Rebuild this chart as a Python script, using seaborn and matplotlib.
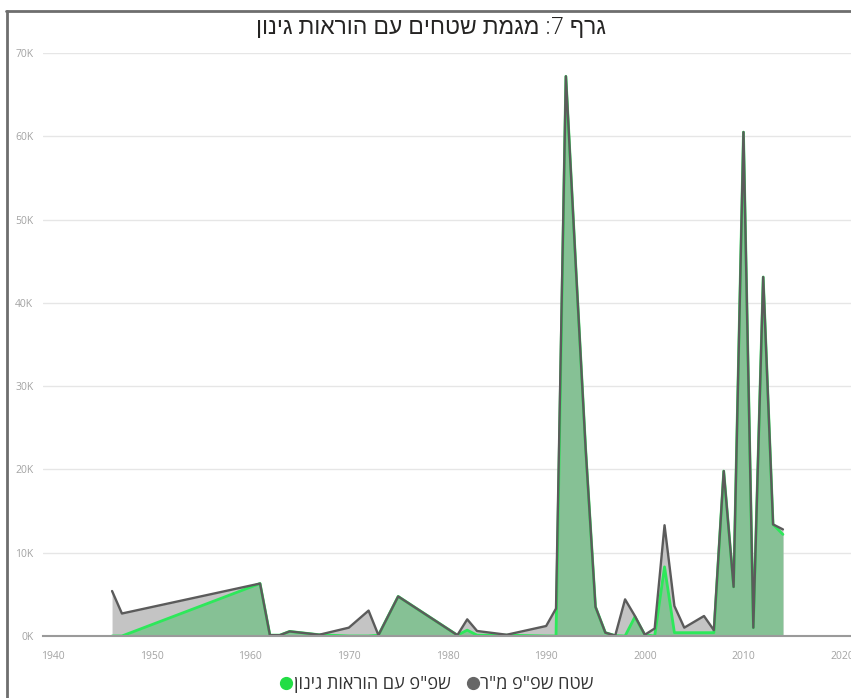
import re
import numpy as np
import pandas as pd
import seaborn as sns
import matplotlib
matplotlib.use("Agg")
import matplotlib.pyplot as plt
from matplotlib.lines import Line2D

# ---- data -------------------------------------------------------------
years = [1946, 1947, 1961, 1962, 1963, 1964, 1967, 1970, 1972, 1973,
         1975, 1981, 1982, 1983, 1986, 1990, 1991, 1992, 1993, 1994,
         1995, 1996, 1997, 1998, 1999, 2000, 2001, 2002, 2003, 2004,
         2005, 2006, 2007, 2008, 2009, 2010, 2011, 2012, 2013, 2014]

# total open private area (sq m)
total_area = [5400, 2700, 6300, 100, 100, 550, 150, 1000, 3050, 100,
              4750, 100, 2000, 600, 150, 1200, 3300, 67200, 44500, 22500,
              3500, 400, 50, 4400, 2400, 150, 900, 13300, 3600, 1000,
              1700, 2400, 700, 19800, 5900, 60500, 1000, 43100, 13400, 12800]

# open private area with planting instructions
garden_area = [0, 0, 6300, 100, 100, 550, 150, 0, 0, 100,
               4750, 100, 700, 100, 100, 0, 0, 67200, 44500, 22500,
               3500, 400, 50, 0, 2300, 150, 0, 8300, 400, 400,
               400, 400, 400, 19800, 5900, 60500, 1000, 43100, 13400, 12200]

title_text = "גרף 7: מגמת שטחים עם הוראות גינון"
total_label = 'שטח שפ"פ מ"ר'
garden_label = 'שפ"פ עם הוראות גינון'

y_ticks = [0, 10000, 20000, 30000, 40000, 50000, 60000, 70000]
x_ticks = [1940, 1950, 1960, 1970, 1980, 1990, 2000, 2010, 2020]


def visual(s):
    """Hebrew text in display order (matplotlib has no bidi support)."""
    return re.sub(r"\d+", lambda m: m.group(0)[::-1], s[::-1])


df = pd.DataFrame({"year": years, "total": total_area, "garden": garden_area})

# ---- style ------------------------------------------------------------
sns.set_theme(style="white")
plt.rcParams["font.family"] = ["Open Sans", "Liberation Sans", "DejaVu Sans"]

W, H = 851, 698
fig = plt.figure(figsize=(W / 100, H / 100), dpi=100)
fig.patch.set_facecolor("white")

ax_left, ax_bottom = 43, 636
ax_top, ax_right = 53, 851
ax = fig.add_axes([ax_left / W, 1 - ax_bottom / H,
                   (ax_right - ax_left) / W, (ax_bottom - ax_top) / H])

gray_fill = "#c4c4c4"
gray_line = "#5b5b5b"
green_fill = "#86c195"
green_line = "#2de85a"

ax.fill_between(df["year"], 0, df["total"], color=gray_fill, lw=0, zorder=1)
ax.fill_between(df["year"], 0, df["garden"], color=green_fill, lw=0, zorder=2)
sns.lineplot(data=df, x="year", y="garden", ax=ax, color=green_line,
             lw=2.0, zorder=3, legend=False)
sns.lineplot(data=df, x="year", y="total", ax=ax, color=gray_line,
             lw=1.7, zorder=4, legend=False)

ax.set_xlim(1939.0, 2020.9)
ax.set_ylim(0, 70000)
ax.set_yticks(y_ticks)
ax.set_yticklabels([f"{int(v / 1000)}K" for v in y_ticks])
ax.set_xticks(x_ticks)
ax.set_xticklabels([str(v) for v in x_ticks])
ax.set_xlabel("")
ax.set_ylabel("")

ax.grid(axis="y", color="#e6e6e6", lw=1.0, zorder=0)
ax.grid(axis="x", visible=False)
for side in ["top", "right", "left"]:
    ax.spines[side].set_visible(False)
ax.spines["bottom"].set_color("#9a9a9a")
ax.spines["bottom"].set_linewidth(1.5)
ax.spines["bottom"].set_zorder(5)

ax.tick_params(axis="y", length=0, pad=7, labelsize=7.5, labelcolor="#a3a3a3")
ax.tick_params(axis="x", length=0, pad=11, labelsize=7.5, labelcolor="#a3a3a3")
ax.set_facecolor("white")

# ---- title ------------------------------------------------------------
fig.text(431 / W, 1 - 28 / H, visual(title_text), ha="center", va="center",
         fontsize=16.5, color="#252423", fontweight="light")

# ---- legend -----------------------------------------------------------
handles = [
    Line2D([], [], marker="o", ls="", color="#22dd44", markersize=8.5),
    Line2D([], [], marker="o", ls="", color="#666666", markersize=8.5),
]
fig.legend(handles, [visual(garden_label), visual(total_label)],
           loc="center", bbox_to_anchor=(437 / W, 1 - 684 / H), ncol=2,
           frameon=False, fontsize=13, handletextpad=0.05,
           columnspacing=0.9, handlelength=0.7, labelcolor="#333333")

# ---- frame around the visual -----------------------------------------
fig.add_artist(Line2D([6 / W, 1], [1 - 11 / H, 1 - 11 / H],
                      transform=fig.transFigure, color="#6e6e6e", lw=2))
fig.add_artist(Line2D([7 / W, 7 / W], [1 - 11 / H, 0],
                      transform=fig.transFigure, color="#6e6e6e", lw=2))

fig.savefig("out.png", dpi=100, facecolor="white")
